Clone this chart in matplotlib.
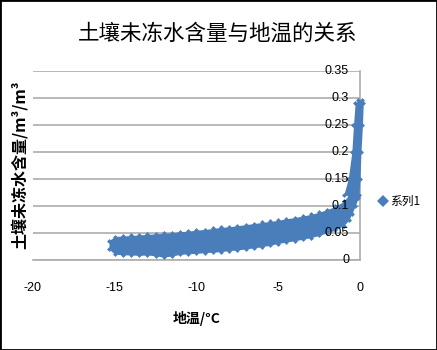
import matplotlib
matplotlib.use('Agg')
import matplotlib.pyplot as plt
from matplotlib.patches import Rectangle
from matplotlib.transforms import offset_copy

plt.rcParams['font.family'] = ['Noto Sans CJK SC', 'DejaVu Sans']

# band: temperature (°C) with lower / upper edge of water content
temp = [-15.35, -15.0, -14.5, -14.0, -13.5, -13.0, -12.5, -12.0, -11.5, -11.0,
        -10.5, -10.0, -9.5, -9.0, -8.5, -8.0, -7.5, -7.0, -6.5, -6.0,
        -5.5, -5.0, -4.5, -4.0, -3.5, -3.0, -2.5, -2.0, -1.5, -1.0,
        -0.7, -0.5, -0.3, -0.1]
wc_low = [0.020, 0.011, 0.0095, 0.0095, 0.0085, 0.0095, 0.0075, 0.0055, 0.0075, 0.0105,
          0.0115, 0.0125, 0.0135, 0.0145, 0.0155, 0.0175, 0.0185, 0.0205, 0.0225, 0.0245,
          0.0275, 0.0305, 0.0335, 0.0355, 0.0385, 0.0415, 0.0455, 0.0505, 0.0555, 0.0635,
          0.0735, 0.085, 0.100, 0.115]
wc_high = [0.036, 0.0435, 0.0445, 0.0455, 0.0465, 0.0475, 0.0485, 0.0495, 0.0505, 0.0525,
           0.0535, 0.0555, 0.0565, 0.0585, 0.0605, 0.0615, 0.0635, 0.0655, 0.0675, 0.0695,
           0.0715, 0.0735, 0.0765, 0.0785, 0.0815, 0.0845, 0.0885, 0.0935, 0.0995, 0.1085,
           0.120, 0.135, 0.160, 0.170]

# steep part near 0 °C: water content with left / right edge of temperature
wc_steep = [0.12, 0.15, 0.20, 0.25, 0.29, 0.296]
temp_left = [-1.0, -0.72, -0.5, -0.4, -0.3, -0.1]
temp_right = [-0.06, 0.0, 0.06, 0.15, 0.2, 0.1]

x_ticks = [-20, -15, -10, -5, 0]
y_ticks = [0, 0.05, 0.1, 0.15, 0.2, 0.25, 0.3, 0.35]
y_labels = ['0', '0.05', '0.1', '0.15', '0.2', '0.25', '0.3', '0.35']

blue = '#4A7EBB'
grey = '#ADADAD'

fig = plt.figure(figsize=(4.37, 3.5), dpi=100)
ax = fig.add_axes([0.0755, 0.2571, 0.7483, 0.54])

ax.fill_between(temp, wc_low, wc_high, color=blue, lw=0, zorder=3)
ax.fill_betweenx(wc_steep, temp_left, temp_right, color=blue, lw=0, zorder=3,
                 clip_on=False)
ax.plot(temp, wc_low, 'D', color=blue, ms=2.5, mew=0, zorder=4)
ax.plot(temp_left + temp_right, wc_steep + wc_steep, 'D', color=blue, ms=2.5,
        mew=0, zorder=4, clip_on=False)
ax.plot(temp, wc_high, 'D', color=blue, ms=2.5, mew=0, zorder=4, label='系列1')

ax.set_xlim(-20, 0)
ax.set_ylim(0, 0.35)
ax.set_xticks(x_ticks)
ax.set_xticklabels([str(t) for t in x_ticks], family='Liberation Sans', fontsize=9)
ax.tick_params(axis='x', length=0, pad=16)
ax.set_yticks(y_ticks)
ax.set_yticklabels([])
ax.tick_params(axis='y', length=0)
ax.grid(axis='y', color=grey, lw=1.2)
ax.set_axisbelow(True)
for s in ['left', 'top']:
    ax.spines[s].set_visible(False)
for s in ['right', 'bottom']:
    ax.spines[s].set_color(grey)
    ax.spines[s].set_linewidth(1.2)

# y labels sit just left of the x=0 axis, inside the plot
trans = offset_copy(ax.get_yaxis_transform(), fig=fig, x=-11, y=0, units='dots')
for v, lab in zip(y_ticks, y_labels):
    ax.text(1, v, lab, transform=trans, ha='right', va='center',
            family='Liberation Sans', fontsize=9, zorder=5)

fig.text(0.499, 0.903, '土壤未冻水含量与地温的关系', ha='center', va='center',
         fontsize=15.5)
fig.text(0.046, 0.529, '土壤未冻水含量/m³/m³', rotation=90, ha='center',
         va='center', fontsize=11.5, fontweight='bold')
fig.text(0.451, 0.091, '地温/°C', ha='center', va='center', fontsize=10,
         fontweight='bold')

ax.legend(loc='center left', bbox_to_anchor=(0.868, 0.425),
          bbox_transform=fig.transFigure, frameon=False, fontsize=8.5,
          handlelength=0.6, handletextpad=0.35, markerscale=2.4,
          borderpad=0, borderaxespad=0)

fig.patches.append(Rectangle((0, 0), 1, 1, transform=fig.transFigure,
                             fill=False, edgecolor='black', lw=2))

fig.savefig('out.png', dpi=100)
